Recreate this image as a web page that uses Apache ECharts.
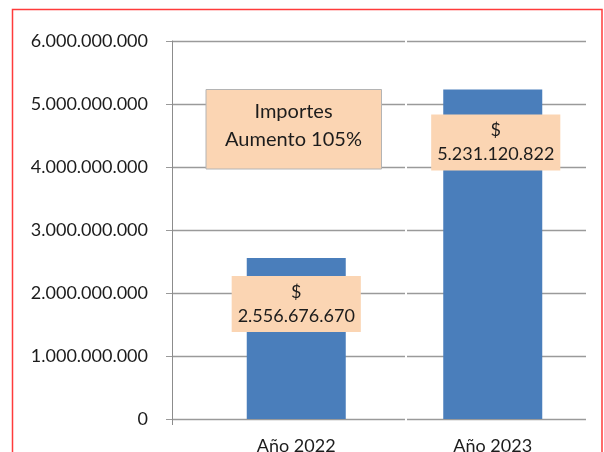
<!DOCTYPE html>
<html>
<head>
<meta charset="utf-8">
<title>Importes 2022 - 2023</title>
<script src="https://cdn.jsdelivr.net/npm/echarts@6/dist/echarts.min.js"></script>
<style>
	html, body { margin: 0; padding: 0; background: #fff; }
	#main { width: 604px; height: 452px; }
</style>
</head>
<body>
<div id="main"></div>
<script>
// datos del grafico
var categorias = ['Año 2022', 'Año 2023'];
var importes = [2556676670, 5231120822];
var ejeMin = 0;
var ejeMax = 6000000000;
var ejePaso = 1000000000;
var notaLineas = ['Importes', 'Aumento 105%'];

// separador de miles con punto
function miles(v) {
	return String(Math.round(v)).replace(/\B(?=(\d{3})+(?!\d))/g, '.');
}

var fuente = 'Lato';
var texto = '#1c1c1c';
var gris = '#9a9a9a';
var durazno = '#fbd5b3';

var lineas = {
	type: 'value', min: ejeMin, max: ejeMax, interval: ejePaso,
	axisLine: { show: false },
	axisTick: { show: false },
	axisLabel: { show: false },
	splitLine: { show: true, lineStyle: { color: gris, width: 1.3 } }
};

var myChart = echarts.init(document.getElementById('main'));
var option = {
	animation: false,
	textStyle: { fontFamily: fuente },
	grid: [
		{ left: 172, right: 199, top: 41, bottom: 33, outerBoundsMode: 'none' },  // lineas izq + eje
		{ left: 407, right: 18, top: 41, bottom: 33, outerBoundsMode: 'none' },   // lineas der
		{ left: 198, right: 13, top: 41, bottom: 33, outerBoundsMode: 'none' }    // barras
	],
	xAxis: [
		{
			// solo la marquita bajo el eje vertical
			gridIndex: 0, type: 'value', min: 0, max: 1,
			axisLine: { show: false },
			axisLabel: { show: false },
			splitLine: { show: false },
			axisTick: { show: true, length: 6, customValues: [0], lineStyle: { color: '#8c8c8c' } }
		},
		{ gridIndex: 1, type: 'category', data: [''], show: false },
		{
			gridIndex: 2, type: 'category', data: categorias,
			axisLine: { show: false },
			axisTick: { show: false },
			axisLabel: { margin: 18, fontSize: 18, color: texto, fontFamily: fuente }
		}
	],
	yAxis: [
		Object.assign({}, lineas, {
			gridIndex: 0,
			axisLine: { show: true, lineStyle: { color: '#8c8c8c', width: 1 } },
			axisTick: { show: true, length: 6, lineStyle: { color: gris } },
			axisLabel: { show: true, margin: 24, fontSize: 18, color: texto, fontFamily: fuente, formatter: miles }
		}),
		Object.assign({}, lineas, { gridIndex: 1 }),
		{ gridIndex: 2, type: 'value', min: ejeMin, max: ejeMax, interval: ejePaso, show: false, splitLine: { show: false } }
	],
	series: [
		{
			name: 'Importes',
			type: 'bar',
			xAxisIndex: 2,
			yAxisIndex: 2,
			barWidth: 99,
			itemStyle: { color: '#4a7ebb' },
			data: importes.map(function (v, i) {
				// la etiqueta de 2023 queda un poco mas abajo
				return i === 1 ? { value: v, label: { distance: 25, offset: [3, 0] } } : { value: v };
			}),
			label: {
				show: true,
				position: 'insideTop',
				distance: 18,
				formatter: function (p) { return '$\n' + miles(p.value); },
				fontSize: 18,
				lineHeight: 24,
				fontFamily: fuente,
				color: texto,
				backgroundColor: durazno,
				padding: [4, 6]
			}
		}
	],
	graphic: [
		{
			type: 'rect', z: 100, silent: true,
			shape: { x: 12.5, y: 9.5, width: 589.5, height: 480 },
			style: { fill: 'none', stroke: '#ff3b3b', lineWidth: 1.5 }
		},
		{
			type: 'rect', z: 50,
			shape: { x: 206, y: 89.5, width: 175.5, height: 79.5 },
			style: { fill: durazno, stroke: '#b4b4b4', lineWidth: 1 }
		},
		{
			type: 'text', z: 51, x: 293.5, y: 126,
			style: {
				text: notaLineas.join('\n'),
				fontSize: 20, lineHeight: 28, fontFamily: fuente,
				fill: texto, align: 'center', verticalAlign: 'middle'
			}
		}
	]
};
myChart.setOption(option);
</script>
</body>
</html>
